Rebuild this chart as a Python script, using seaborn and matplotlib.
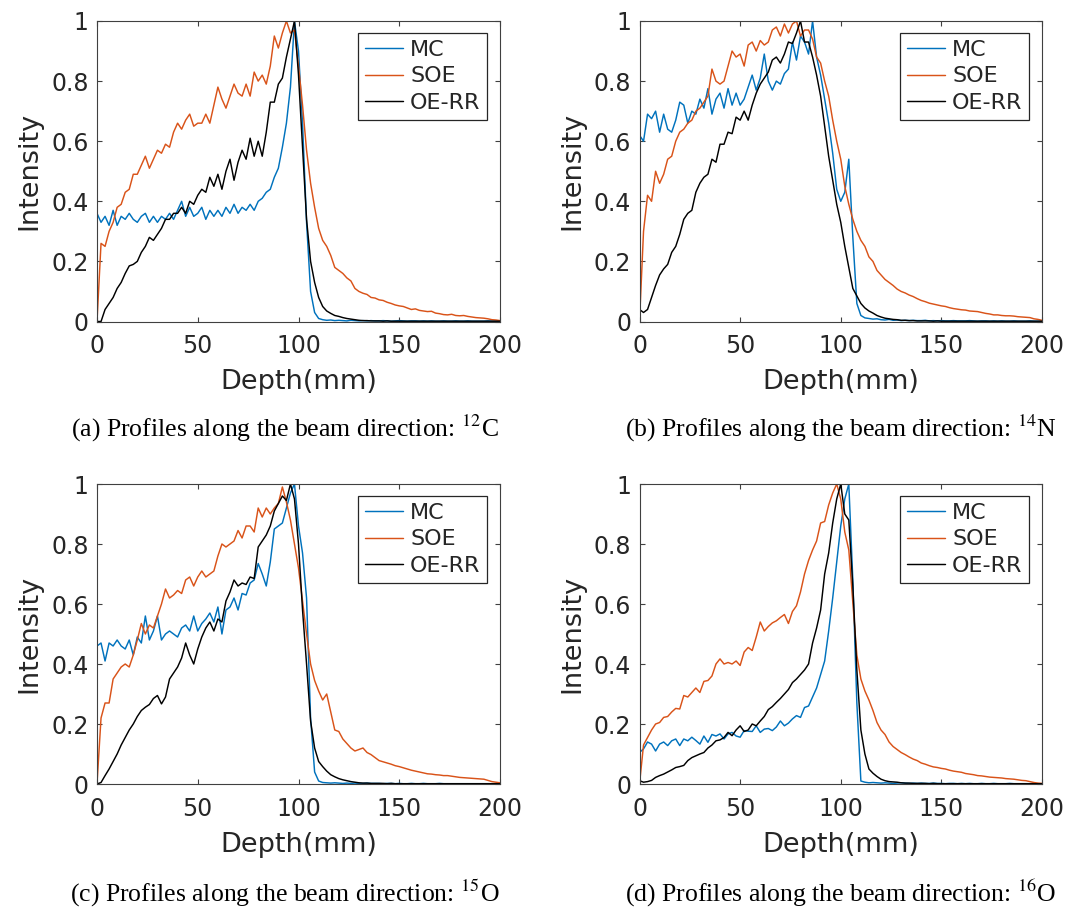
import matplotlib
matplotlib.use("Agg")
import matplotlib.pyplot as plt
import seaborn as sns
import pandas as pd

# ---------------- data ----------------
depth = list(range(0, 201, 2))  # mm
methods = ["MC", "SOE", "OE-RR"]
colors = ["#0072BD", "#D95319", "#000000"]
x_ticks = [0, 50, 100, 150, 200]
y_ticks = [0, 0.2, 0.4, 0.6, 0.8, 1.0]
y_tick_labels = ["0", "0.2", "0.4", "0.6", "0.8", "1"]
captions = ["(a) Profiles along the beam direction: $^{12}$C",
            "(b) Profiles along the beam direction: $^{14}$N",
            "(c) Profiles along the beam direction: $^{15}$O",
            "(d) Profiles along the beam direction: $^{16}$O"]

# ---- (a) 12C ----
a_mc = [0.36, 0.33, 0.35, 0.32, 0.37, 0.32, 0.35, 0.34, 0.36, 0.34,
        0.33, 0.35, 0.36, 0.33, 0.35, 0.33, 0.35, 0.34, 0.36, 0.34,
        0.37, 0.40, 0.35, 0.38, 0.35, 0.36, 0.38, 0.34, 0.37, 0.35,
        0.37, 0.35, 0.38, 0.36, 0.39, 0.36, 0.38, 0.37, 0.39, 0.37,
        0.40, 0.41, 0.43, 0.44, 0.48, 0.51, 0.58, 0.66, 0.78, 1.00,
        0.90, 0.66, 0.33, 0.10, 0.03, 0.01, 0.006, 0.004, 0.005, 0.003,
        0.004, 0.003, 0.002, 0.004, 0.003, 0.002, 0.003, 0.002, 0.003, 0.002,
        0.002, 0.003, 0.002, 0.001, 0.002, 0.003, 0.002, 0.001, 0.002, 0.002,
        0.001, 0.002, 0.001, 0.002, 0.001, 0.001, 0.002, 0.001, 0.001, 0.002,
        0.001, 0.001, 0.002, 0.001, 0.001, 0.001, 0.001, 0.002, 0.001, 0.001,
        0.001]
a_soe = [0.00, 0.26, 0.25, 0.30, 0.33, 0.38, 0.39, 0.43, 0.44, 0.49,
         0.49, 0.52, 0.55, 0.51, 0.54, 0.57, 0.56, 0.59, 0.58, 0.63,
         0.66, 0.64, 0.67, 0.69, 0.65, 0.66, 0.66, 0.69, 0.66, 0.72,
         0.78, 0.74, 0.71, 0.75, 0.79, 0.76, 0.75, 0.79, 0.75, 0.83,
         0.80, 0.82, 0.79, 0.85, 0.95, 0.91, 0.96, 1.00, 0.96, 0.97,
         0.85, 0.72, 0.57, 0.46, 0.38, 0.31, 0.27, 0.25, 0.22, 0.18,
         0.17, 0.16, 0.145, 0.135, 0.11, 0.10, 0.094, 0.09, 0.08, 0.078,
         0.072, 0.07, 0.064, 0.06, 0.055, 0.052, 0.05, 0.045, 0.04, 0.042,
         0.037, 0.035, 0.033, 0.034, 0.028, 0.026, 0.023, 0.022, 0.024, 0.02,
         0.019, 0.02, 0.017, 0.015, 0.013, 0.012, 0.011, 0.009, 0.006, 0.005,
         0.003]
a_oerr = [0.00, 0.00, 0.04, 0.06, 0.08, 0.11, 0.13, 0.16, 0.185, 0.19,
          0.20, 0.23, 0.25, 0.28, 0.27, 0.29, 0.31, 0.34, 0.34, 0.36,
          0.36, 0.38, 0.36, 0.40, 0.39, 0.42, 0.44, 0.43, 0.48, 0.45,
          0.49, 0.44, 0.50, 0.54, 0.47, 0.53, 0.57, 0.54, 0.61, 0.55,
          0.60, 0.55, 0.63, 0.73, 0.73, 0.79, 0.81, 0.88, 0.94, 1.00,
          0.82, 0.58, 0.34, 0.20, 0.13, 0.08, 0.05, 0.035, 0.027, 0.02,
          0.017, 0.013, 0.01, 0.008, 0.006, 0.004, 0.003, 0.003, 0.002, 0.002,
          0.002, 0.001, 0.002, 0.001, 0.001, 0.001, 0.001, 0.001, 0.001, 0.001,
          0.001, 0.001, 0.001, 0.001, 0.001, 0.001, 0.001, 0.001, 0.001, 0.001,
          0.001, 0.001, 0.001, 0.001, 0.001, 0.001, 0.001, 0.001, 0.001, 0.001,
          0.001]

# ---- (b) 14N ----
b_mc = [0.62, 0.60, 0.69, 0.675, 0.70, 0.63, 0.69, 0.64, 0.63, 0.67,
        0.73, 0.72, 0.66, 0.70, 0.69, 0.74, 0.71, 0.775, 0.69, 0.74,
        0.76, 0.71, 0.775, 0.72, 0.76, 0.72, 0.74, 0.78, 0.82, 0.77,
        0.81, 0.89, 0.80, 0.77, 0.80, 0.79, 0.825, 0.84, 0.93, 0.87,
        0.95, 0.93, 0.89, 1.00, 0.88, 0.82, 0.74, 0.66, 0.56, 0.44,
        0.40, 0.43, 0.54, 0.28, 0.06, 0.02, 0.012, 0.01, 0.008, 0.009,
        0.006, 0.005, 0.007, 0.004, 0.005, 0.003, 0.004, 0.003, 0.004, 0.003,
        0.003, 0.004, 0.002, 0.003, 0.002, 0.003, 0.002, 0.002, 0.003, 0.002,
        0.002, 0.002, 0.003, 0.002, 0.001, 0.002, 0.002, 0.001, 0.002, 0.001,
        0.002, 0.001, 0.001, 0.002, 0.001, 0.001, 0.001, 0.002, 0.001, 0.001,
        0.001]
b_soe = [0.00, 0.30, 0.42, 0.40, 0.50, 0.46, 0.49, 0.54, 0.55, 0.60,
         0.63, 0.64, 0.66, 0.67, 0.70, 0.71, 0.73, 0.75, 0.84, 0.80,
         0.79, 0.80, 0.85, 0.90, 0.88, 0.89, 0.85, 0.92, 0.93, 0.90,
         0.935, 0.92, 0.93, 0.97, 0.98, 0.95, 0.99, 0.96, 0.99, 1.00,
         0.95, 0.97, 0.97, 0.94, 0.88, 0.86, 0.80, 0.75, 0.67, 0.60,
         0.54, 0.45, 0.39, 0.34, 0.30, 0.27, 0.25, 0.215, 0.20, 0.17,
         0.155, 0.14, 0.13, 0.12, 0.108, 0.10, 0.095, 0.088, 0.083, 0.076,
         0.07, 0.066, 0.061, 0.058, 0.055, 0.052, 0.05, 0.046, 0.043, 0.041,
         0.039, 0.038, 0.035, 0.034, 0.033, 0.03, 0.027, 0.025, 0.022, 0.022,
         0.02, 0.019, 0.019, 0.018, 0.016, 0.015, 0.014, 0.013, 0.009, 0.007,
         0.004]
b_oerr = [0.04, 0.03, 0.04, 0.08, 0.12, 0.155, 0.175, 0.19, 0.23, 0.25,
          0.29, 0.34, 0.36, 0.37, 0.43, 0.46, 0.48, 0.49, 0.54, 0.53,
          0.59, 0.59, 0.63, 0.625, 0.68, 0.67, 0.70, 0.67, 0.72, 0.76,
          0.79, 0.81, 0.83, 0.87, 0.88, 0.86, 0.89, 0.93, 0.925, 0.96,
          1.00, 0.93, 0.93, 0.88, 0.82, 0.75, 0.65, 0.55, 0.47, 0.39,
          0.33, 0.25, 0.18, 0.11, 0.085, 0.06, 0.045, 0.035, 0.028, 0.02,
          0.015, 0.011, 0.009, 0.007, 0.006, 0.004, 0.004, 0.003, 0.003, 0.002,
          0.002, 0.002, 0.002, 0.001, 0.002, 0.001, 0.001, 0.001, 0.001, 0.001,
          0.001, 0.001, 0.001, 0.001, 0.001, 0.001, 0.001, 0.001, 0.001, 0.001,
          0.001, 0.001, 0.001, 0.001, 0.001, 0.001, 0.001, 0.001, 0.001, 0.001,
          0.001]

# ---- (c) 15O ----
c_mc = [0.46, 0.47, 0.41, 0.47, 0.46, 0.48, 0.46, 0.45, 0.48, 0.43,
        0.49, 0.47, 0.56, 0.48, 0.51, 0.56, 0.48, 0.50, 0.51, 0.50,
        0.49, 0.52, 0.53, 0.51, 0.56, 0.51, 0.535, 0.55, 0.57, 0.54,
        0.59, 0.50, 0.58, 0.59, 0.62, 0.58, 0.635, 0.63, 0.67, 0.68,
        0.735, 0.70, 0.66, 0.74, 0.85, 0.86, 0.87, 0.92, 0.97, 1.00,
        0.86, 0.77, 0.62, 0.22, 0.04, 0.01, 0.005, 0.004, 0.003, 0.004,
        0.003, 0.002, 0.003, 0.002, 0.003, 0.002, 0.002, 0.003, 0.002, 0.002,
        0.002, 0.001, 0.002, 0.002, 0.001, 0.002, 0.001, 0.001, 0.002, 0.001,
        0.001, 0.002, 0.001, 0.001, 0.001, 0.002, 0.001, 0.001, 0.001, 0.001,
        0.001, 0.001, 0.001, 0.001, 0.001, 0.001, 0.001, 0.001, 0.001, 0.001,
        0.001]
c_soe = [0.00, 0.22, 0.27, 0.27, 0.35, 0.37, 0.39, 0.40, 0.39, 0.43,
         0.48, 0.535, 0.50, 0.53, 0.52, 0.56, 0.60, 0.65, 0.62, 0.63,
         0.645, 0.635, 0.68, 0.69, 0.66, 0.69, 0.71, 0.69, 0.70, 0.71,
         0.76, 0.80, 0.79, 0.80, 0.81, 0.845, 0.82, 0.86, 0.86, 0.84,
         0.92, 0.89, 0.92, 0.90, 0.92, 0.935, 0.99, 0.94, 0.88, 0.80,
         0.72, 0.61, 0.50, 0.40, 0.345, 0.31, 0.28, 0.30, 0.24, 0.18,
         0.175, 0.15, 0.135, 0.12, 0.11, 0.115, 0.12, 0.105, 0.098, 0.088,
         0.078, 0.074, 0.07, 0.066, 0.061, 0.058, 0.054, 0.05, 0.046, 0.043,
         0.04, 0.037, 0.034, 0.033, 0.031, 0.03, 0.028, 0.028, 0.026, 0.024,
         0.022, 0.021, 0.02, 0.019, 0.018, 0.017, 0.016, 0.012, 0.008, 0.006,
         0.004]
c_oerr = [0.00, 0.005, 0.028, 0.05, 0.075, 0.10, 0.13, 0.155, 0.18, 0.20,
          0.225, 0.245, 0.256, 0.265, 0.285, 0.295, 0.267, 0.29, 0.35, 0.37,
          0.39, 0.42, 0.47, 0.43, 0.40, 0.45, 0.49, 0.52, 0.54, 0.51,
          0.55, 0.54, 0.61, 0.64, 0.68, 0.66, 0.67, 0.665, 0.69, 0.685,
          0.79, 0.81, 0.83, 0.86, 0.91, 0.935, 0.96, 0.945, 1.00, 0.95,
          0.80, 0.58, 0.40, 0.21, 0.12, 0.075, 0.058, 0.043, 0.031, 0.024,
          0.018, 0.014, 0.011, 0.008, 0.006, 0.004, 0.003, 0.003, 0.002, 0.002,
          0.002, 0.002, 0.001, 0.002, 0.001, 0.001, 0.001, 0.001, 0.001, 0.001,
          0.001, 0.001, 0.001, 0.001, 0.001, 0.001, 0.001, 0.001, 0.001, 0.001,
          0.001, 0.001, 0.001, 0.001, 0.001, 0.001, 0.001, 0.001, 0.001, 0.001,
          0.001]

# ---- (d) 16O ----
d_mc = [0.105, 0.117, 0.14, 0.133, 0.11, 0.133, 0.14, 0.128, 0.144, 0.15,
        0.128, 0.15, 0.144, 0.156, 0.145, 0.133, 0.16, 0.139, 0.165, 0.16,
        0.167, 0.15, 0.167, 0.172, 0.16, 0.156, 0.178, 0.176, 0.175, 0.194,
        0.172, 0.183, 0.185, 0.178, 0.19, 0.21, 0.194, 0.203, 0.217, 0.228,
        0.222, 0.255, 0.26, 0.29, 0.32, 0.365, 0.41, 0.51, 0.62, 0.74,
        0.86, 0.95, 1.00, 0.68, 0.27, 0.01, 0.006, 0.004, 0.005, 0.004,
        0.003, 0.004, 0.003, 0.002, 0.003, 0.004, 0.003, 0.002, 0.003, 0.002,
        0.003, 0.002, 0.002, 0.003, 0.002, 0.002, 0.001, 0.002, 0.002, 0.001,
        0.002, 0.001, 0.002, 0.001, 0.001, 0.002, 0.001, 0.001, 0.002, 0.001,
        0.001, 0.001, 0.002, 0.001, 0.001, 0.001, 0.001, 0.001, 0.002, 0.001,
        0.001]
d_soe = [0.00, 0.13, 0.155, 0.18, 0.20, 0.205, 0.222, 0.225, 0.24, 0.252,
         0.25, 0.295, 0.29, 0.305, 0.32, 0.305, 0.342, 0.345, 0.36, 0.40,
         0.417, 0.40, 0.405, 0.40, 0.41, 0.395, 0.44, 0.455, 0.445, 0.49,
         0.54, 0.51, 0.525, 0.537, 0.544, 0.555, 0.565, 0.535, 0.575, 0.594,
         0.64, 0.70, 0.745, 0.78, 0.81, 0.87, 0.875, 0.93, 0.97, 1.00,
         0.95, 0.84, 0.78, 0.605, 0.43, 0.35, 0.31, 0.28, 0.245, 0.205,
         0.18, 0.165, 0.14, 0.125, 0.115, 0.105, 0.098, 0.09, 0.083, 0.078,
         0.07, 0.066, 0.061, 0.057, 0.055, 0.052, 0.05, 0.046, 0.043, 0.041,
         0.039, 0.035, 0.033, 0.031, 0.028, 0.027, 0.025, 0.023, 0.022, 0.021,
         0.02, 0.018, 0.017, 0.016, 0.014, 0.012, 0.011, 0.008, 0.005, 0.003,
         0.002]
d_oerr = [0.011, 0.006, 0.008, 0.012, 0.022, 0.028, 0.033, 0.04, 0.047, 0.055,
          0.058, 0.062, 0.078, 0.088, 0.094, 0.10, 0.105, 0.12, 0.13, 0.144,
          0.147, 0.155, 0.172, 0.161, 0.18, 0.194, 0.175, 0.18, 0.20, 0.194,
          0.21, 0.225, 0.248, 0.258, 0.272, 0.285, 0.30, 0.315, 0.338, 0.35,
          0.365, 0.38, 0.40, 0.47, 0.52, 0.58, 0.70, 0.77, 0.87, 0.95,
          1.00, 0.90, 0.88, 0.66, 0.38, 0.18, 0.10, 0.05, 0.036, 0.025,
          0.016, 0.011, 0.008, 0.007, 0.006, 0.004, 0.003, 0.003, 0.002, 0.002,
          0.002, 0.002, 0.001, 0.002, 0.001, 0.001, 0.001, 0.001, 0.001, 0.001,
          0.001, 0.001, 0.001, 0.001, 0.001, 0.001, 0.001, 0.001, 0.001, 0.001,
          0.001, 0.001, 0.001, 0.001, 0.001, 0.001, 0.001, 0.001, 0.001, 0.001,
          0.001]

panel_series = [(a_mc, a_soe, a_oerr), (b_mc, b_soe, b_oerr),
                (c_mc, c_soe, c_oerr), (d_mc, d_soe, d_oerr)]

# ---------------- style ----------------
sns.set_theme(style="white")
plt.rcParams["font.family"] = ["DejaVu Sans"]
plt.rcParams["mathtext.fontset"] = "stix"

W, H = 1083, 907
fig = plt.figure(figsize=(W / 100, H / 100), dpi=100)

# axes boxes in pixels: left, top, right, bottom
boxes = [(97, 21, 500, 321.5), (639.5, 21, 1042, 321.5),
         (97, 484, 500, 784), (639.5, 484, 1042, 784)]
caption_pos = [(285, 428), (841, 428), (285, 893), (841, 893)]

spine_col = "#404040"
text_col = "#262626"

for i, (l, t, r, b) in enumerate(boxes):
    ax = fig.add_axes([l / W, 1 - b / H, (r - l) / W, (b - t) / H])
    for name, col, vals in zip(methods, colors, panel_series[i]):
        df = pd.DataFrame({"Depth": depth, "Intensity": vals})
        sns.lineplot(data=df, x="Depth", y="Intensity", ax=ax, color=col,
                     linewidth=1.05, label=name, estimator=None, errorbar=None)
    ax.set_xlim(0, 200)
    ax.set_ylim(0, 1)
    ax.set_xticks(x_ticks)
    ax.set_xticklabels([str(v) for v in x_ticks])
    ax.set_yticks(y_ticks)
    ax.set_yticklabels(y_tick_labels)
    ax.tick_params(direction="in", length=3.5, width=0.8, color=spine_col,
                   labelsize=17, labelcolor=text_col, top=True, right=True,
                   bottom=True, left=True)
    ax.tick_params(axis="x", pad=9)
    ax.tick_params(axis="y", pad=6)
    for s in ax.spines.values():
        s.set_visible(True)
        s.set_color(spine_col)
        s.set_linewidth(0.8)
    ax.set_xlabel("Depth(mm)", fontsize=19.5, color=text_col, labelpad=8)
    ax.set_ylabel("Intensity", fontsize=19.5, color=text_col, labelpad=6)
    leg = ax.legend(loc="upper right", bbox_to_anchor=(0.968, 0.96),
                    borderaxespad=0, fontsize=16, frameon=True, fancybox=False,
                    framealpha=1, edgecolor="#262626", handlelength=1.75,
                    handletextpad=0.3, labelspacing=0.3, borderpad=0.3)
    leg.get_frame().set_linewidth(0.9)
    cx, cy = caption_pos[i]
    fig.text(cx / W, 1 - cy / H, captions[i], ha="center", va="center",
             fontsize=18.5, family="Liberation Serif", color="black")

fig.savefig("out.png", dpi=100)
